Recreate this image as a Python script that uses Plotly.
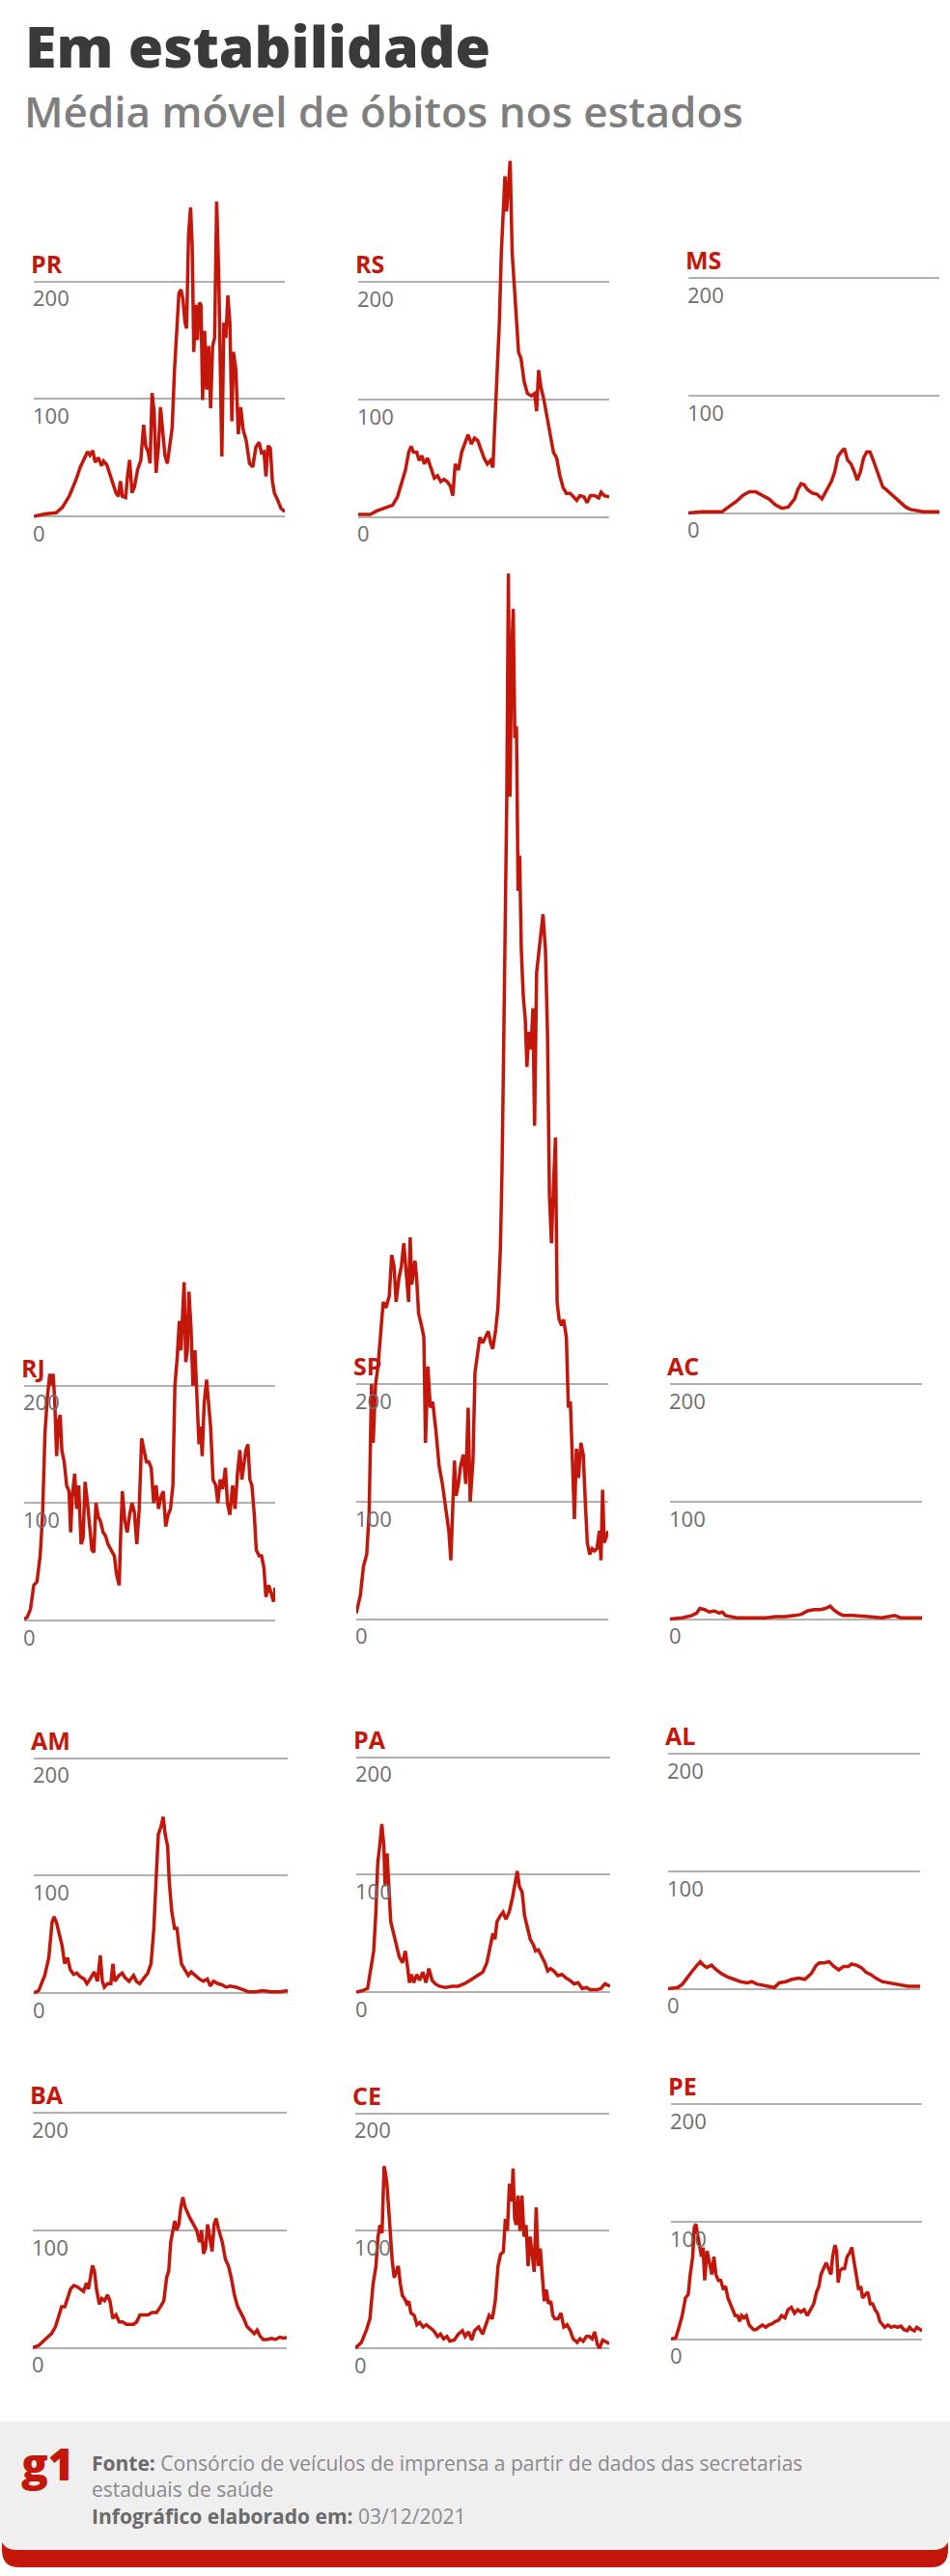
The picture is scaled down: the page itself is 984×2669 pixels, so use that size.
import plotly.graph_objects as go

W, H = 984, 2669
RED = "#c4170c"
GRID = "#b0b0b0"
TICKC = "#6e6e6e"

# ---------------- data: (day since start, 7-day moving average of deaths) ----------------
PR = [(0,0),(28,2),(56,3),(72,8),(88,17),(104,30),(116,42),(126,50),(134,55),(140,52),(147,56),(153,46),(161,50),(169,43),(174,47),(182,44),(190,36),(198,28),(205,20),(211,17),(216,30),(221,17),(229,16),(234,35),(239,48),(245,20),(251,25),(259,40),(267,48),(274,78),(279,60),(285,55),(290,45),(295,105),(300,90),(305,37),(311,60),(316,93),(321,70),(327,52),(333,45),(339,58),(345,75),(351,125),(356,160),(362,190),(367,193),(372,185),(377,165),(381,160),(386,240),(391,263),(395,230),(399,140),(404,180),(408,150),(413,182),(417,180),(421,99),(426,158),(431,108),(436,145),(441,92),(446,145),(451,152),(456,268),(461,210),(465,120),(469,51),(474,165),(479,152),(484,188),(489,165),(494,81),(498,140),(504,125),(510,70),(516,93),(522,74),(530,64),(538,45),(546,42),(554,59),(562,63),(568,54),(574,55),(579,34),(584,60),(590,58),(595,30),(600,20),(608,14),(616,7),(626,4)]
RS = [(0,2),(30,2),(46,5),(70,8),(86,10),(98,17),(110,30),(118,40),(126,55),(132,60),(138,55),(146,55),(152,48),(159,52),(165,45),(173,50),(181,42),(190,33),(198,35),(206,30),(214,32),(222,30),(230,26),(236,18),(242,45),(250,40),(258,55),(266,62),(274,70),(282,62),(290,67),(298,65),(306,58),(314,50),(322,45),(330,48),(336,42),(340,75),(346,110),(352,165),(357,225),(362,265),(366,290),(370,260),(374,285),(379,303),(384,225),(389,200),(394,170),(400,140),(406,135),(414,115),(422,105),(432,103),(440,105),(445,90),(450,125),(456,110),(463,100),(471,85),(479,70),(487,55),(495,50),(503,35),(511,25),(519,20),(529,20),(537,17),(545,14),(553,18),(563,17),(571,12),(579,18),(590,18),(600,16),(606,21),(614,18),(626,17)]
MS = [(0,0),(32,1),(64,1),(84,1),(104,6),(120,10),(136,15),(152,18),(168,18),(184,15),(201,12),(217,7),(233,4),(249,5),(265,12),(273,20),(281,25),(289,24),(297,20),(309,17),(321,16),(333,12),(345,20),(357,27),(365,35),(373,48),(381,52),(389,55),(397,45),(405,42),(413,36),(421,28),(429,35),(437,47),(445,52),(453,52),(461,45),(469,37),(477,30),(485,22),(493,20),(506,16),(518,12),(530,8),(542,5),(554,3),(570,2),(586,1),(602,1),(626,1)]
RJ = [(0,1),(8,3),(16,10),(24,30),(32,33),(40,55),(46,90),(52,160),(58,190),(64,210),(68,200),(72,210),(76,190),(81,140),(86,170),(90,175),(94,145),(100,135),(106,115),(112,110),(116,75),(120,105),(126,125),(131,95),(136,115),(142,65),(147,70),(152,118),(158,100),(163,80),(169,60),(174,58),(179,100),(185,88),(190,85),(197,75),(203,72),(209,65),(217,60),(225,55),(230,40),(237,30),(241,75),(245,110),(251,85),(257,75),(263,90),(269,100),(275,92),(281,65),(287,95),(293,155),(299,145),(305,135),(311,135),(317,130),(323,100),(329,115),(335,95),(341,105),(347,110),(353,80),(359,90),(365,95),(371,115),(376,200),(382,225),(387,255),(391,230),(395,265),(399,288),(403,220),(407,230),(411,280),(416,250),(421,200),(426,230),(431,190),(436,150),(440,165),(444,140),(449,185),(455,205),(460,185),(465,165),(471,120),(478,115),(483,100),(489,120),(495,112),(502,130),(507,100),(513,90),(520,115),(526,95),(532,125),(538,145),(543,120),(548,135),(553,145),(558,150),(563,120),(568,115),(574,90),(579,60),(586,55),(592,55),(598,45),(603,20),(610,30),(616,23),(622,16),(626,28)]
SP = [(0,5),(10,20),(18,45),(26,55),(32,90),(38,200),(42,150),(48,200),(54,215),(62,250),(67,270),(74,265),(82,275),(88,310),(94,300),(99,270),(106,290),(112,300),(118,320),(123,300),(130,270),(134,325),(138,285),(142,295),(146,305),(150,290),(155,260),(162,250),(168,240),(172,150),(178,215),(184,180),(190,185),(198,160),(206,130),(214,115),(222,95),(230,75),(235,50),(240,100),(244,135),(248,105),(254,115),(259,130),(266,140),(272,115),(278,180),(283,100),(290,135),(295,210),(302,230),(307,240),(314,235),(322,240),(328,245),(334,235),(339,230),(346,245),(352,265),(358,315),(362,380),(366,480),(370,600),(374,700),(378,890),(382,700),(386,820),(390,860),(394,750),(398,760),(402,620),(406,650),(410,570),(415,530),(420,510),(424,470),(429,500),(434,485),(439,520),(443,420),(448,550),(453,565),(458,580),(464,600),(470,570),(475,500),(480,360),(485,320),(490,370),(495,410),(499,270),(504,255),(510,250),(515,255),(522,240),(527,180),(532,185),(536,140),(542,85),(547,145),(552,120),(558,150),(564,140),(569,100),(574,65),(580,55),(586,60),(592,58),(598,60),(604,75),(608,50),(612,110),(616,65),(621,70),(626,75)]
AC = [(0,0),(30,1),(54,3),(66,5),(74,9),(86,8),(98,6),(110,7),(122,5),(130,6),(138,3),(150,2),(166,1),(198,1),(238,1),(262,2),(286,2),(310,3),(326,4),(342,7),(358,8),(374,8),(386,9),(398,11),(406,8),(418,5),(430,3),(454,3),(478,2),(494,2),(526,1),(558,3),(574,1),(606,1),(626,1)]
AM = [(0,0),(12,2),(27,15),(37,30),(45,60),(50,65),(56,60),(63,50),(70,40),(76,25),(83,30),(90,20),(98,16),(106,17),(114,14),(124,12),(131,8),(139,12),(149,18),(157,10),(164,32),(169,10),(174,5),(182,8),(190,8),(195,25),(200,10),(210,15),(218,17),(225,13),(235,10),(246,15),(253,10),(261,8),(271,12),(281,17),(289,25),(296,55),(302,100),(307,135),(314,142),(319,150),(324,135),(330,125),(334,95),(340,70),(347,55),(353,55),(358,40),(364,25),(372,20),(381,15),(388,18),(398,15),(408,12),(418,10),(428,12),(435,6),(443,10),(454,8),(464,7),(474,5),(484,6),(499,5),(515,3),(530,1),(545,1),(565,2),(586,1),(606,1),(626,2)]
PA = [(0,0),(13,1),(28,3),(36,20),(43,35),(48,65),(53,110),(58,125),(63,143),(68,125),(71,90),(76,118),(81,90),(85,60),(92,50),(99,40),(106,30),(114,25),(121,35),(127,20),(131,8),(136,15),(142,8),(149,15),(156,10),(164,17),(172,8),(179,20),(187,10),(195,7),(205,5),(220,4),(236,5),(251,5),(266,7),(281,10),(296,13),(312,17),(322,25),(332,40),(337,50),(342,45),(347,60),(355,65),(362,68),(369,62),(377,68),(385,80),(392,95),(397,103),(402,90),(409,85),(415,65),(422,55),(429,45),(437,40),(442,35),(449,36),(457,30),(465,25),(472,18),(479,20),(487,18),(497,14),(507,15),(517,12),(527,10),(537,7),(547,8),(557,3),(567,4),(577,2),(593,2),(603,3),(613,7),(626,5)]
AL = [(0,0),(24,1),(36,4),(48,10),(60,15),(72,20),(80,23),(88,20),(96,18),(108,20),(120,16),(132,13),(148,10),(164,8),(180,6),(196,5),(208,6),(220,4),(236,3),(252,2),(264,1),(276,5),(292,6),(308,8),(324,9),(340,8),(356,13),(368,20),(376,22),(388,22),(400,23),(412,19),(424,16),(436,19),(448,19),(456,21),(468,20),(480,18),(492,14),(504,12),(516,9),(532,6),(548,5),(564,4),(580,3),(596,2),(612,2),(626,2)]
BA = [(0,0),(15,2),(30,7),(46,12),(56,18),(63,27),(71,35),(79,35),(86,42),(93,50),(101,53),(109,52),(117,50),(125,48),(132,55),(137,50),(142,60),(147,70),(152,65),(157,50),(164,37),(170,42),(177,40),(184,45),(190,40),(197,25),(205,28),(213,22),(221,22),(231,20),(241,20),(248,20),(256,22),(264,28),(274,28),(284,28),(294,30),(305,30),(315,35),(323,40),(330,60),(335,65),(340,90),(345,100),(350,108),(355,100),(360,105),(365,120),(370,128),(375,120),(381,115),(388,110),(396,105),(404,100),(411,90),(416,100),(421,80),(426,85),(431,105),(436,95),(442,82),(447,105),(452,110),(457,102),(462,95),(467,90),(475,75),(482,70),(489,60),(497,45),(505,35),(513,30),(520,25),(528,18),(538,15),(546,12),(553,15),(560,10),(568,7),(578,7),(588,8),(598,7),(609,9),(619,8),(626,9)]
CE = [(0,0),(15,5),(27,15),(36,25),(44,55),(51,70),(56,95),(61,105),(66,98),(71,155),(74,150),(78,140),(82,120),(86,95),(91,75),(96,60),(101,65),(106,70),(111,55),(116,45),(122,42),(127,38),(132,40),(137,30),(145,28),(152,20),(159,22),(167,18),(175,20),(183,18),(193,15),(203,10),(210,12),(218,8),(226,10),(233,6),(244,7),(254,12),(264,15),(271,10),(279,14),(287,7),(294,15),(304,18),(314,12),(322,20),(330,28),(338,25),(345,40),(352,70),(358,80),(365,82),(370,110),(375,100),(380,140),(386,125),(389,153),(393,110),(397,105),(401,130),(406,100),(411,130),(416,95),(421,105),(426,70),(431,95),(436,80),(441,65),(446,120),(451,70),(456,85),(461,60),(466,40),(471,50),(476,38),(482,40),(487,28),(492,25),(500,25),(507,30),(514,18),(522,20),(530,15),(537,8),(547,5),(554,8),(562,6),(570,10),(577,10),(584,8),(590,14),(597,3),(602,0),(610,7),(617,6),(626,4)]
PE = [(0,0),(12,1),(20,10),(28,20),(36,35),(43,38),(48,55),(54,70),(58,95),(62,98),(66,90),(72,80),(76,70),(80,78),(84,50),(90,75),(96,65),(102,55),(107,70),(112,55),(118,50),(124,50),(131,42),(136,45),(142,35),(148,30),(155,25),(160,20),(166,20),(171,15),(176,20),(182,18),(188,20),(195,12),(200,10),(206,8),(212,8),(220,10),(228,12),(236,10),(244,12),(252,13),(260,15),(268,16),(276,20),(284,18),(292,25),(300,27),(308,22),(316,25),(324,23),(332,25),(340,20),(348,25),(356,30),(363,40),(369,45),(374,55),(381,60),(387,65),(393,60),(399,55),(403,70),(409,80),(413,75),(417,48),(421,58),(427,60),(433,60),(439,70),(445,73),(451,78),(457,65),(462,55),(468,42),(473,45),(478,35),(485,38),(491,40),(497,30),(503,30),(509,25),(515,22),(521,15),(527,12),(533,10),(541,12),(549,10),(557,11),(565,10),(573,11),(581,8),(589,7),(595,10),(601,8),(607,7),(613,10),(620,8),(626,7)]

STATES = ["PR", "RS", "MS", "RJ", "SP", "AC", "AM", "PA", "AL", "BA", "CE", "PE"]
SERIES = {"PR": PR, "RS": RS, "MS": MS, "RJ": RJ, "SP": SP, "AC": AC,
          "AM": AM, "PA": PA, "AL": AL, "BA": BA, "CE": CE, "PE": PE}
TICK_VALS = [0, 100, 200]
TICK_TEXT = ["0", "100", "200"]
DAY_MAX = 626

TITLE = "Em estabilidade"
SUBTITLE = "Média móvel de óbitos nos estados"
FOOTER = ("<span style='color:#6a6a6a'><b>Fonte:</b></span> Consórcio de veículos "
          "de imprensa a partir de dados das secretarias<br>"
          "estaduais de saúde<br>"
          "<span style='color:#6a6a6a'><b>Infográfico elaborado em:</b></span> 03/12/2021")

# ---------------- layout (pixels): left, right, y of the zero line ----------------
BOX = {
    "PR": (35, 295, 535), "RS": (371, 631, 535.5), "MS": (713, 973, 531.5),
    "RJ": (25, 285, 1679), "SP": (369, 630, 1677.5), "AC": (694, 955, 1677.5),
    "AM": (35, 298, 2065), "PA": (369, 632, 2064), "AL": (692, 953, 2060.5),
    "BA": (34, 297, 2432.5), "CE": (368, 631, 2433), "PE": (695, 955, 2423.5),
}
PX_PER_UNIT = 1.217
LO = -30


def px(x):
    return x / W


def py(y):
    return 1 - y / H


fig = go.Figure()
layout = {}
annotations = []

for i, st in enumerate(STATES, start=1):
    pts = SERIES[st]
    days = [p[0] for p in pts]
    vals = [p[1] for p in pts]
    x0, x1, z = BOX[st]
    hi = max(230, max(vals) + 15)
    top_px = z - hi * PX_PER_UNIT
    bot_px = z - LO * PX_PER_UNIT
    sfx = "" if i == 1 else str(i)
    fig.add_trace(go.Scatter(
        x=days, y=vals, mode="lines",
        line=dict(color=RED, width=3.5),
        xaxis="x" + sfx, yaxis="y" + sfx,
        hoverinfo="skip", showlegend=False,
    ))
    layout["xaxis" + sfx] = dict(
        domain=[px(x0), px(x1)], range=[0, DAY_MAX], visible=False,
        anchor="y" + sfx, fixedrange=True,
    )
    layout["yaxis" + sfx] = dict(
        domain=[py(bot_px), py(top_px)], range=[LO, hi],
        anchor="free", position=px(x0 - 5),
        tickvals=TICK_VALS, ticktext=TICK_TEXT,
        showgrid=True, gridcolor=GRID, gridwidth=1.5,
        zeroline=False, showline=False, ticks="",
        ticklabelposition="inside", ticklabelshift=18, ticklabelstandoff=0,
        ticklabeloverflow="allow",
        tickfont=dict(family="Open Sans", size=22, color=TICKC),
        fixedrange=True,
    )
    annotations.append(dict(
        text=st, xref="x" + sfx, yref="y" + sfx, x=0, y=200,
        xanchor="left", yanchor="middle", yshift=19, xshift=-5, showarrow=False,
        font=dict(family="Open Sans", size=25, color=RED, weight=700),
    ))

# title & subtitle
annotations.append(dict(
    text=TITLE, xref="paper", yref="paper", x=px(24), y=py(47),
    xanchor="left", yanchor="middle", showarrow=False,
    font=dict(family="Open Sans", size=59, color="#3a3a3a", weight=800),
))
annotations.append(dict(
    text=SUBTITLE, xref="paper", yref="paper", x=px(23), y=py(115),
    xanchor="left", yanchor="middle", showarrow=False,
    font=dict(family="Open Sans", size=44, color="#7f7f7f", weight=600),
))

# footer
annotations.append(dict(
    text="g1", xref="paper", yref="paper", x=px(20), y=py(2552),
    xanchor="left", yanchor="middle", showarrow=False,
    font=dict(family="Open Sans", size=46, color=RED, weight=800),
))
annotations.append(dict(
    text=FOOTER, xref="paper", yref="paper", x=px(93), y=py(2579),
    xanchor="left", yanchor="middle", align="left", showarrow=False,
    font=dict(family="Open Sans", size=21, color="#8a8a8a"),
))


def rounded_box(xa, xb, ya, yb, r, round_top=False):
    p = []
    if round_top:
        p.append(f"M {px(xa)},{py(ya + r)} Q {px(xa)},{py(ya)} {px(xa + r)},{py(ya)}")
        p.append(f"L {px(xb - r)},{py(ya)} Q {px(xb)},{py(ya)} {px(xb)},{py(ya + r)}")
    else:
        p.append(f"M {px(xa)},{py(ya)} L {px(xb)},{py(ya)}")
    p.append(f"L {px(xb)},{py(yb - r)} Q {px(xb)},{py(yb)} {px(xb - r)},{py(yb)}")
    p.append(f"L {px(xa + r)},{py(yb)} Q {px(xa)},{py(yb)} {px(xa)},{py(yb - r)} Z")
    return " ".join(p)


shapes = [
    dict(type="path", xref="paper", yref="paper", layer="below",
         path=rounded_box(2, 982, 2560, 2660, 18, round_top=True),
         fillcolor=RED, line=dict(width=0)),
    dict(type="path", xref="paper", yref="paper", layer="below",
         path=rounded_box(0, 984, 2509, 2642, 18),
         fillcolor="#efefef", line=dict(width=0)),
]

fig.update_layout(
    width=W, height=H,
    margin=dict(l=0, r=0, t=0, b=0),
    paper_bgcolor="white", plot_bgcolor="rgba(0,0,0,0)",
    annotations=annotations, shapes=shapes,
    showlegend=False,
    **layout,
)

fig.write_html(
    "out.html",
    config={"displayModeBar": False},
    post_script="document.body.style.margin='0';document.body.style.padding='0';",
)
